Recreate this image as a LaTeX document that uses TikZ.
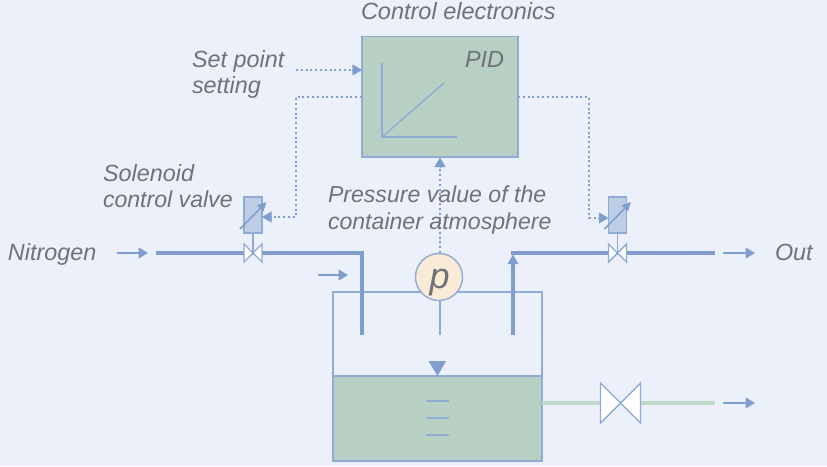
\documentclass[tikz,border=0pt]{standalone}
\usepackage{fontspec}
\setmainfont{Liberation Sans}
\usetikzlibrary{arrows.meta,calc}
\definecolor{bgc}{HTML}{EBF0FB}
\definecolor{linec}{HTML}{7F9ECE}
\definecolor{edgec}{HTML}{8FABD6}
\definecolor{greenc}{HTML}{B8CFC3}
\definecolor{pipegreen}{HTML}{C0D8CC}
\definecolor{solc}{HTML}{BDCDE6}
\definecolor{pc}{HTML}{FAEBD7}
\definecolor{textc}{HTML}{6F7277}
\tikzset{
  x=1pt,y=-1pt,
  tip/.style={-{Triangle[length=9.5pt,width=11pt]}},
  headonly/.style={draw=linec,line width=.4pt,tip},
  label/.style={inner sep=0pt,outer sep=0pt,anchor=base west,text=textc,font=\fontsize{23.4}{26}\selectfont\itshape,align=left},
  labelsm/.style={label,font=\fontsize{23.1}{26}\selectfont\itshape},
  pipe/.style={draw=linec,line width=4.6pt},
  signal/.style={draw=linec,line width=2pt,dash pattern=on 2pt off 2.8pt},
  flow/.style={draw=linec,line width=1.3pt,tip},
  thin line/.style={draw=edgec,line width=1.4pt},
  box/.style={draw=edgec,line width=1.8pt,inner sep=0pt,outer sep=0pt,anchor=north west},
  solbox/.style={box,fill=solc,minimum width=18pt,minimum height=36pt},
  vnode/.style={inner sep=0pt,outer sep=0pt,minimum width=0pt,minimum height=0pt},
  bow/.style={draw=edgec,line width=1.4pt,fill=white,line join=miter},
}
\newcommand{\valvebow}[3]{% name, half-width, half-height
  \draw[bow] (#1.center) -- ++(-#2,-#3) -- ++(0,2*#3) -- cycle;
  \draw[bow] (#1.center) -- ++(#2,-#3) -- ++(0,2*#3) -- cycle;
}
\begin{document}
\begin{tikzpicture}
\useasboundingbox[fill=bgc] (0,0) rectangle (827,466);
% named points
\coordinate (nin) at (156,253);
\coordinate (lcorner) at (362,253);
\coordinate (lend) at (362,335);
\coordinate (rstart) at (513,335);
\coordinate (rcorner) at (513,253);
\coordinate (rout) at (715,253);
\coordinate (gout) at (715,403);
\coordinate (gstart) at (542,403);
\coordinate (sp) at (296,70);
\coordinate (lk1) at (296,97);
\coordinate (lk2) at (296,217);
\coordinate (rk1) at (589,97);
\coordinate (rk2) at (589,218);
% tank
\node[box,minimum width=209pt,minimum height=169pt] (tank) at (333,292) {};
\node[box,fill=greenc,minimum width=209pt,minimum height=85pt] (liquid) at (333,376) {};
\foreach \yy in {401,418,435} \draw[thin line] (426,\yy) -- (449,\yy);
\fill[linec] (428.5,361) -- (446,361) -- (437.5,376) -- cycle;
% PID box
\node[box,fill=greenc,minimum width=156pt,minimum height=120.5pt] (pid) at (362,36.5) {};
\coordinate (ax) at (382,137);
\draw[thin line] (382,63) -- (ax) -- (457,137);
\draw[thin line] (ax) -- (444,83);
% valves
\node[vnode] (v1) at (253,253) {};
\node[vnode] (v2) at (617.5,253) {};
\node[vnode] (v3) at (620.5,403) {};
\node[solbox] (s1) at (244,197) {};
\node[solbox] (s2) at (608.5,197) {};
% signals
\draw[signal] (sp) -- (353,70);
\draw[headonly] (352,70) -- (pid.west |- sp);
\draw[signal] (pid.west |- lk1) -- (lk1) -- (lk2) -- (271,217);
\draw[headonly] (272,217) -- (s1.east |- lk2);
\draw[signal] (pid.east |- rk1) -- (rk1) -- (rk2) -- (599,218);
\draw[headonly] (598,218) -- (s2.west |- rk2);
% solenoid adjust arrows
\draw[draw=linec,line width=1.5pt,-{Triangle[length=9pt,width=8.5pt]}] (240,229) -- (266.5,202);
\draw[draw=linec,line width=1.5pt,-{Triangle[length=9pt,width=8.5pt]}] (604.5,229) -- (631,202);
% stems
\draw[thin line] (s1.south) -- (v1.center);
\draw[thin line] (s2.south) -- (v2.center);
% pipes
\draw[pipe] (nin) -- (v1.center) -- (lcorner) -- (lend);
\draw[pipe] (rstart) -- (513,258);
\draw[pipe] (510.7,253) -- (v2.center) -- (rout);
\fill[linec] (513,254.5) -- (518.5,264) -- (507.5,264) -- cycle;
\draw[pipe,draw=pipegreen] (gstart) -- (v3.center) -- (gout);
\valvebow{v1}{9}{9}
\valvebow{v2}{9}{9}
\valvebow{v3}{20}{20}
% pressure sensor
\draw[signal] (440,253) -- (440,167);
\draw[headonly] (440,167) -- (440,157.5);
\draw[thin line] (440,300) -- (440,335);
\node[circle,draw=edgec,fill=pc,line width=1.4pt,minimum size=47pt,inner sep=0pt,outer sep=0pt] (p) at (439,277) {};
\node[label,font=\fontsize{36}{36}\selectfont\itshape] (pl) at (429.5,288) {p};
% flow arrows
\coordinate (a1) at (117,253); \coordinate (a1e) at (148,253);
\coordinate (a2) at (318,275); \coordinate (a2e) at (348,275);
\coordinate (a3) at (723,253); \coordinate (a3e) at (755,253);
\coordinate (a4) at (723,403); \coordinate (a4e) at (755,403);
\draw[flow] (a1) -- (a1e);
\draw[flow] (a2) -- (a2e);
\draw[flow] (a3) -- (a3e);
\draw[flow] (a4) -- (a4e);
% labels
\node[label,font=\fontsize{23.5}{26}\selectfont\itshape] (t1) at (361,19) {Control electronics};
\node[label] (t2) at (465,67) {PID};
\node[label] (t3) at (192,67) {Set point};
\node[label] (t3b) at (192,93) {setting};
\node[label] (t4) at (103,181) {Solenoid};
\node[labelsm] (t4b) at (103,207) {control valve};
\node[labelsm] (t5) at (328,202) {Pressure value of the};
\node[labelsm] (t5b) at (328,229) {container atmosphere};
\node[label] (t6) at (8,260) {Nitrogen};
\node[label] (t7) at (775,260) {Out};
\end{tikzpicture}
\end{document}
